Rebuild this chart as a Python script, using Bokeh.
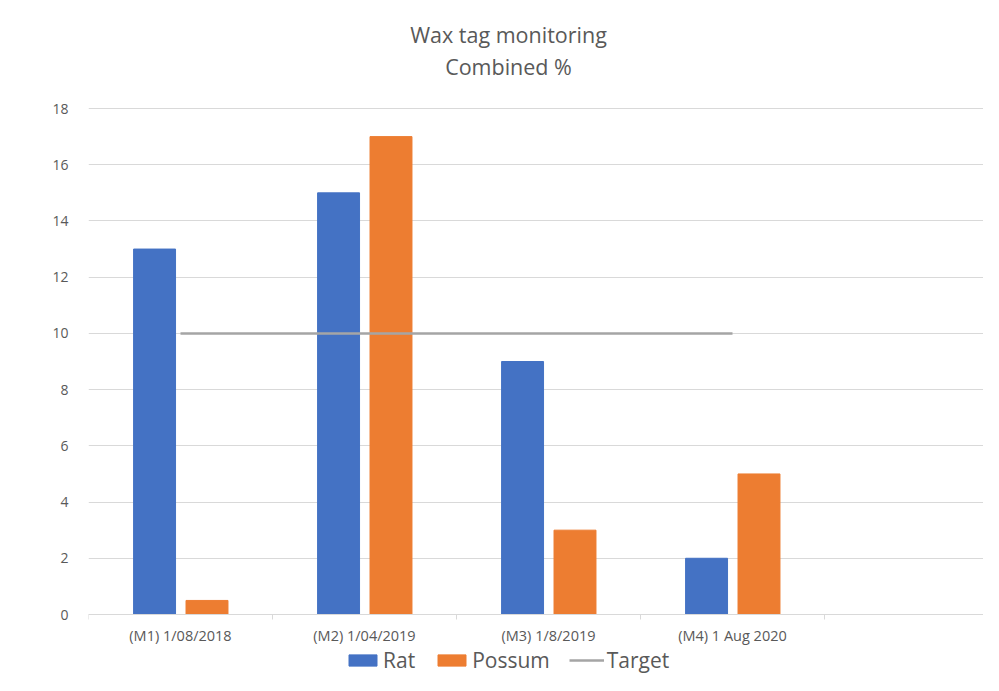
import numpy as np
from bokeh.plotting import figure
from bokeh.models import (ColumnDataSource, FixedTicker, Legend, LegendItem, Label, Range1d)
from bokeh.embed import file_html
from bokeh.resources import INLINE

categories = ["(M1) 1/08/2018", "(M2) 1/04/2019", "(M3) 1/8/2019", "(M4) 1 Aug 2020"]
rat = [13, 15, 9, 2]
possum = [0.5, 17, 3, 5]
target = [10, 10, 10, 10]
y_ticks = [0, 2, 4, 6, 8, 10, 12, 14, 16, 18]
title_lines = ["Wax tag monitoring", "Combined %"]

FONT = "Open Sans"
xc = np.arange(len(categories)) + 0.5
src = ColumnDataSource(dict(x=xc, rat=rat, possum=possum, target=target,
                            xr=xc - 0.141, xp=xc + 0.144))

W, H = 983, 675
LEFT, TOP, ZERO_Y, CAT_W = 88, 108, 614, 184.0
ppu = (ZERO_Y - TOP) / 18.0
p = figure(width=W, height=H, output_backend="svg", toolbar_location=None,
           x_range=Range1d(0, (W - LEFT) / CAT_W),
           y_range=Range1d(-(H - ZERO_Y) / ppu, 18 + TOP / ppu),
           min_border_left=LEFT, min_border_right=0, min_border_top=0,
           min_border_bottom=0, outline_line_color=None)

# title (two centred lines above the plot area)
for txt, ypix in zip(title_lines, [34, 66]):
    p.add_layout(Label(x=(508 - LEFT) / CAT_W, y=18 + (TOP - ypix) / ppu, text=txt,
                       text_align="center", text_baseline="middle",
                       text_font=FONT, text_font_size="21.5px",
                       text_color="#595959"))

r_rat = p.vbar(x="xr", top="rat", width=0.228, source=src, color="#4472C4")
r_pos = p.vbar(x="xp", top="possum", width=0.228, source=src, color="#ED7D31")
r_tgt = p.line(x="x", y="target", source=src, line_color="#A5A5A5", line_width=2.5)

p.xgrid.visible = False
p.ygrid.ticker = FixedTicker(ticks=y_ticks)
p.ygrid.grid_line_color = "#D9D9D9"
p.ygrid.grid_line_width = 1

p.yaxis.ticker = FixedTicker(ticks=y_ticks)
p.yaxis.axis_line_color = None
p.yaxis.major_tick_line_color = None
p.yaxis.minor_tick_line_color = None
p.yaxis.major_label_text_font = FONT
p.yaxis.major_label_text_font_size = "14px"
p.yaxis.major_label_text_color = "#595959"
p.yaxis.major_label_standoff = 14

p.xaxis.fixed_location = 0
p.xaxis.ticker = FixedTicker(ticks=list(xc), minor_ticks=[0, 1, 2, 3, 4])
p.xaxis.major_label_overrides = {float(x): c for x, c in zip(xc, categories)}
p.xaxis.axis_line_color = "#D9D9D9"
p.xaxis.major_tick_line_color = None
p.xaxis.minor_tick_line_color = "#D9D9D9"
p.xaxis.minor_tick_out = 5
p.xaxis.minor_tick_in = 0
p.xaxis.major_label_text_font = FONT
p.xaxis.major_label_text_font_size = "14.5px"
p.xaxis.major_label_text_color = "#595959"
p.xaxis.major_label_standoff = 5

legend = Legend(items=[LegendItem(label="Rat", renderers=[r_rat]),
                       LegendItem(label="Possum", renderers=[r_pos]),
                       LegendItem(label="Target", renderers=[r_tgt])],
                orientation="horizontal", location=(257, 1),
                label_text_font=FONT, label_text_font_size="21px",
                label_text_color="#595959", glyph_width=35, glyph_height=14,
                spacing=19, padding=0, margin=0, label_standoff=3,
                border_line_color=None, background_fill_alpha=0)
p.add_layout(legend)

open("out.html", "w").write(file_html(p, INLINE))
